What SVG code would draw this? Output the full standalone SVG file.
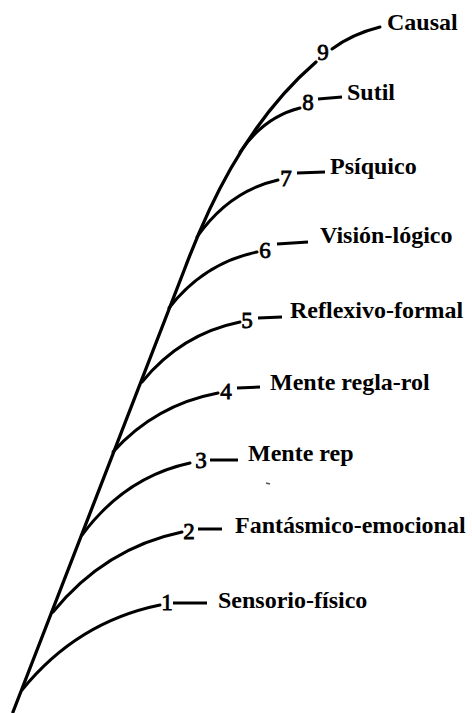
<svg xmlns="http://www.w3.org/2000/svg" width="472" height="713" viewBox="0 0 472 713">
<style>
.ln{fill:none;stroke:#000;stroke-width:3;stroke-linecap:round}
.dash{fill:none;stroke:#000;stroke-width:3}
.lbl{font-family:"Liberation Serif","Times New Roman",serif;font-weight:bold;font-size:24px;fill:#000}
.num{font-family:"Liberation Serif","Times New Roman",serif;font-size:23px;fill:#000;stroke:#000;stroke-width:0.8;text-anchor:middle}
</style>
<rect width="472" height="713" fill="#fff"/>
<g id="connectors">
<path class="ln" d="M13,712 L185,268 C205,215 243,125 316,62" style="stroke-width:3.3"/>
<path class="ln" d="M332,49 Q352,34 380,27"/>
<path class="ln" d="M22,690 Q77,622 160,605"/>
<path class="ln" d="M53,612 Q105,548 182,532"/>
<path class="ln" d="M82,535 Q125,477 190,463"/>
<path class="ln" d="M113,452 Q155,405 218,393"/>
<path class="ln" d="M142,382 Q181,334 240,322"/>
<path class="ln" d="M169,308 Q204,263 257,252"/>
<path class="ln" d="M197,237 Q229,191 278,180"/>
<path class="ln" d="M240,152 Q264,117 300,108"/>
</g>
<g id="stage1">
<text class="num" x="167" y="610">1</text>
<line class="dash" x1="173" y1="603" x2="207" y2="603"/>
<text class="lbl" x="218" y="608">Sensorio-físico</text>
</g>
<g id="stage2">
<text class="num" x="189" y="539">2</text>
<line class="dash" x1="198" y1="529" x2="222" y2="529"/>
<text class="lbl" x="235" y="533">Fantásmico-emocional</text>
</g>
<g id="stage3">
<text class="num" x="201" y="468">3</text>
<line class="dash" x1="210" y1="460" x2="238" y2="460"/>
<text class="lbl" x="248" y="461">Mente rep</text>
</g>
<g id="stage4">
<text class="num" x="226" y="399">4</text>
<line class="dash" x1="237" y1="388" x2="260" y2="387"/>
<text class="lbl" x="270" y="390">Mente regla-rol</text>
</g>
<g id="stage5">
<text class="num" x="247" y="328">5</text>
<line class="dash" x1="258" y1="318" x2="282" y2="317"/>
<text class="lbl" x="290" y="318">Reflexivo-formal</text>
</g>
<g id="stage6">
<text class="num" x="265" y="258">6</text>
<line class="dash" x1="277" y1="244" x2="308" y2="242"/>
<text class="lbl" x="320" y="243">Visión-lógico</text>
</g>
<g id="stage7">
<text class="num" x="286" y="186">7</text>
<line class="dash" x1="297" y1="173" x2="325" y2="172"/>
<text class="lbl" x="330" y="174">Psíquico</text>
</g>
<g id="stage8">
<text class="num" x="308" y="110">8</text>
<line class="dash" x1="318" y1="99" x2="342" y2="97"/>
<text class="lbl" x="347" y="100">Sutil</text>
</g>
<g id="stage9">
<text class="num" x="323" y="60">9</text>
<text class="lbl" x="387" y="30">Causal</text>
</g>
<line x1="266" y1="483" x2="270" y2="484" stroke="#555" stroke-width="1.5"/>
</svg>
